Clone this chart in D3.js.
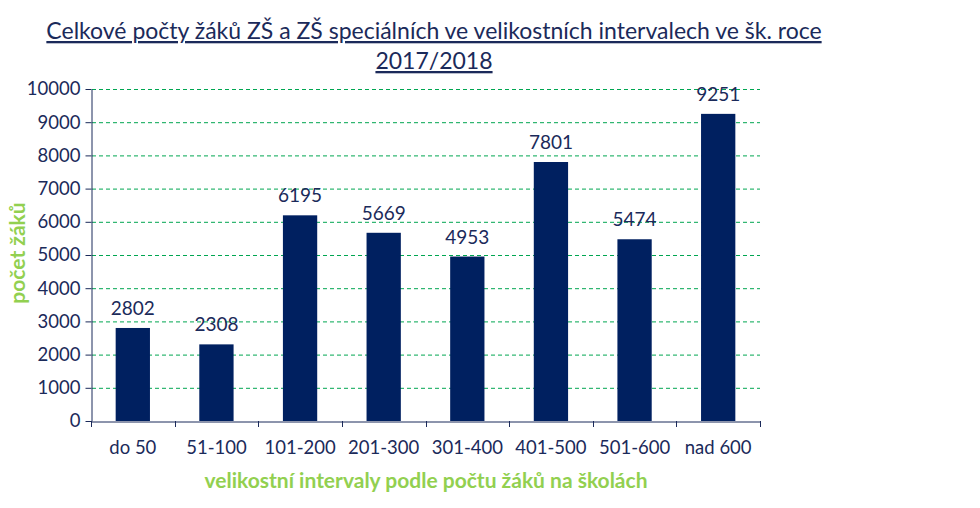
<!DOCTYPE html>
<html><head><meta charset="utf-8">
<script src="https://cdn.jsdelivr.net/npm/d3@7"></script>
<style>body{margin:0;background:#fff}svg{display:block}text{font-family:Lato,"Open Sans",sans-serif}</style>
</head><body>
<script>
const categories=["do 50","51-100","101-200","201-300","301-400","401-500","501-600","nad 600"];
const values=[2802,2308,6195,5669,4953,7801,5474,9251];
const yTicks=[0,1000,2000,3000,4000,5000,6000,7000,8000,9000,10000];
const titleLines=["Celkové počty žáků ZŠ a ZŠ speciálních ve velikostních intervalech ve šk. roce","2017/2018"];
const yLabel="počet žáků";
const xLabel="velikostní intervaly podle počtu žáků na školách";

const W=980,H=508;
const navy="#1B2A5A", bar="#002060", green="#92D050";
const svg=d3.select("body").append("svg").attr("width",W).attr("height",H);
const m={l:91,r:760,t:89,b:421};
const x=d3.scaleBand().domain(categories).range([m.l,m.r]).paddingInner(0.59).paddingOuter(0.295);
const xb=d3.scaleBand().domain(categories).range([m.l,m.r]);
const y=d3.scaleLinear().domain([0,10000]).range([m.b,m.t]);

// title
titleLines.forEach((t,i)=>{
  svg.append("text").attr("x",434).attr("y",39+i*30).attr("text-anchor","middle")
   .attr("font-size",23).attr("fill",navy).attr("text-decoration","underline").text(t);
});
// grid
svg.append("g").selectAll("line").data(yTicks.filter(d=>d>0)).join("line")
  .attr("x1",m.l+1).attr("x2",m.r).attr("y1",d=>y(d)+0.5).attr("y2",d=>y(d)+0.5)
  .attr("stroke","#00A651").attr("stroke-dasharray","4,3").attr("stroke-width",1);
// bars
svg.append("g").selectAll("rect").data(values).join("rect")
  .attr("x",(d,i)=>x(categories[i])).attr("width",x.bandwidth())
  .attr("y",d=>y(d)).attr("height",d=>y(0)-y(d)).attr("fill",bar);
// data labels
svg.append("g").selectAll("text").data(values).join("text")
  .attr("x",(d,i)=>x(categories[i])+x.bandwidth()/2).attr("y",d=>y(d)-13)
  .attr("text-anchor","middle").attr("font-size",19).attr("fill",navy).text(d=>d);
// y axis
const ya=svg.append("g").attr("transform",`translate(${m.l+0.5},0)`)
  .call(d3.axisLeft(y).tickValues(yTicks).tickSize(6).tickSizeOuter(0).tickPadding(5).tickFormat(d3.format("d")));
ya.select(".domain").attr("stroke",navy);
ya.selectAll(".tick line").attr("stroke",navy);
ya.selectAll("text").attr("font-size",18.5).attr("fill",navy).attr("font-family","Lato");
// x axis
const xa=svg.append("g").attr("transform",`translate(0,${m.b+0.5})`)
  .call(d3.axisBottom(xb).tickSize(0).tickSizeOuter(0).tickPadding(19));
xa.select(".domain").attr("stroke",navy);
xa.selectAll("text").attr("font-size",18.5).attr("fill",navy).attr("font-family","Lato");
const bounds=categories.map(c=>xb(c)).concat([m.r]);
svg.append("g").selectAll("line").data(bounds).join("line")
  .attr("x1",d=>Math.round(d)+0.5).attr("x2",d=>Math.round(d)+0.5).attr("y1",m.b).attr("y2",m.b+6).attr("stroke",navy);
// axis titles
svg.append("text").attr("transform","translate(25,253) rotate(-90)").attr("text-anchor","middle")
  .attr("font-size",21).attr("font-weight","bold").attr("fill",green).text(yLabel);
svg.append("text").attr("x",426).attr("y",488).attr("text-anchor","middle")
  .attr("font-size",21).attr("font-weight","bold").attr("fill",green).text(xLabel);
</script>
</body></html>
